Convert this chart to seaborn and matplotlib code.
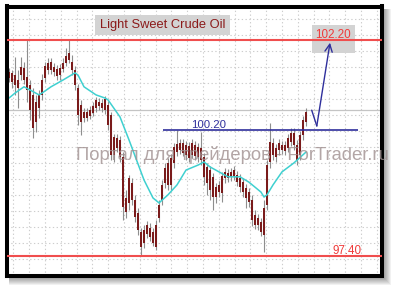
import matplotlib
matplotlib.use("Agg")
import matplotlib.pyplot as plt
import seaborn as sns
import numpy as np
import pandas as pd
from matplotlib.patches import Rectangle

# ---------------- data ----------------
opens = [101.49, 101.47, 101.42, 101.13, 101.42, 101.58, 101.38, 101.20, 100.98, 100.38,
         100.69, 100.98, 101.36, 101.53, 101.71, 101.60, 101.56, 101.42, 101.56, 101.69,
         101.76, 101.71, 101.53, 101.13, 100.76, 100.47, 100.60, 100.51, 100.58, 100.69,
         100.82, 100.69, 100.64, 100.76, 100.53, 99.64, 100.02, 99.98, 99.60, 98.38,
         98.58, 99.02, 98.64, 98.36, 97.93, 97.69, 97.89, 98.02, 97.93, 97.60,
         98.24, 98.64, 99.02, 98.98, 99.58, 99.47, 99.71, 99.91, 99.69, 99.87,
         99.58, 99.64, 99.87, 99.60, 99.80, 99.60, 99.38, 99.31, 99.16, 98.71,
         98.82, 98.80, 99.13, 99.24, 99.16, 99.18, 99.20, 99.13, 99.04, 98.91,
         98.82, 98.64, 98.31, 98.09, 98.16, 97.87, 98.53, 99.49, 99.91, 99.80,
         99.76, 99.87, 99.73, 99.80, 99.93, 100.13, 99.87, 99.64, 100.09, 100.38]
closes = [101.36, 101.27, 101.20, 101.31, 101.60, 101.31, 101.09, 100.64, 100.24, 100.82,
          100.98, 101.31, 101.62, 101.69, 101.53, 101.49, 101.40, 101.58, 101.69, 101.84,
          101.91, 101.53, 101.20, 100.53, 100.38, 100.60, 100.47, 100.64, 100.73, 100.87,
          100.73, 100.80, 100.89, 100.31, 99.64, 100.04, 99.80, 99.60, 98.49, 98.69,
          99.13, 98.64, 98.27, 97.98, 97.60, 97.98, 98.09, 97.82, 97.69, 98.09,
          98.53, 98.98, 99.36, 99.47, 98.98, 99.82, 99.89, 99.76, 99.91, 99.64,
          99.84, 99.91, 99.62, 99.82, 99.53, 99.16, 99.02, 98.87, 98.71, 98.93,
          98.98, 99.18, 99.27, 99.13, 99.27, 99.31, 99.04, 98.93, 98.82, 98.69,
          98.60, 98.20, 98.09, 98.24, 97.93, 98.47, 99.42, 99.93, 99.64, 99.60,
          99.91, 99.76, 99.87, 100.02, 100.13, 99.87, 99.53, 100.09, 100.42, 100.60]
highs = [101.58, 101.53, 101.82, 101.53, 101.82, 101.71, 102.20, 101.31, 101.13, 100.98,
         101.09, 101.44, 101.71, 101.80, 101.80, 101.69, 101.64, 101.67, 101.80, 102.02,
         102.20, 101.87, 101.62, 101.22, 100.87, 100.69, 100.69, 100.73, 100.82, 100.93,
         100.91, 100.89, 100.96, 100.84, 100.60, 100.11, 100.11, 100.07, 99.71, 98.87,
         99.20, 99.13, 98.76, 98.47, 98.02, 98.09, 98.18, 98.13, 98.02, 98.20,
         98.64, 99.09, 99.47, 99.58, 99.67, 99.91, 100.20, 100.00, 100.00, 99.96,
         99.93, 100.00, 99.96, 99.91, 100.16, 99.69, 99.47, 99.40, 99.24, 99.02,
         99.07, 99.27, 99.36, 99.33, 99.36, 99.40, 99.29, 99.22, 99.13, 99.00,
         98.91, 98.76, 98.42, 98.33, 98.24, 98.64, 99.53, 100.36, 100.02, 99.89,
         100.00, 99.96, 99.96, 100.11, 100.24, 100.24, 99.98, 100.18, 100.51, 100.69]
lows = [101.27, 101.13, 100.98, 100.69, 101.31, 101.22, 100.82, 100.42, 100.02, 100.16,
        100.47, 100.87, 101.27, 101.44, 101.44, 101.40, 101.31, 101.31, 101.49, 101.62,
        101.69, 101.42, 101.09, 100.31, 100.09, 100.38, 100.40, 100.44, 100.51, 100.60,
        100.64, 100.60, 100.56, 100.20, 99.53, 99.49, 99.71, 99.49, 98.20, 98.24,
        98.42, 98.53, 98.16, 97.87, 97.42, 97.58, 97.80, 97.73, 97.62, 97.53,
        98.16, 98.53, 98.91, 98.87, 98.87, 99.36, 99.62, 99.67, 99.62, 99.53,
        99.49, 99.58, 99.53, 99.49, 99.42, 98.98, 98.76, 98.64, 98.42, 98.58,
        98.71, 98.60, 99.02, 99.04, 99.07, 99.09, 98.96, 98.82, 98.71, 98.47,
        98.49, 98.07, 98.00, 97.98, 97.84, 97.49, 98.42, 99.36, 99.53, 99.49,
        99.64, 99.67, 99.64, 99.71, 99.84, 99.76, 99.42, 99.53, 99.98, 100.29]

ma_idx = [0, 2, 5, 7, 10, 11, 14, 18, 22, 23, 25, 29, 32, 33, 37, 40, 45, 48, 50, 53,
          56, 59, 63, 65, 67, 70, 73, 77, 80, 84, 85, 86, 88, 91, 95, 99]
ma_val = [100.91, 101.02, 101.16, 101.09, 100.98, 101.02, 101.16, 101.31, 101.47, 101.42,
          101.16, 100.98, 100.91, 100.87, 100.49, 99.98, 99.09, 98.69, 98.58, 98.76,
          98.98, 99.31, 99.42, 99.49, 99.38, 99.27, 99.16, 99.16, 99.04, 98.82,
          98.71, 98.76, 98.98, 99.27, 99.47, 99.71]

title = "Light Sweet Crude Oil"
watermark = "Портал для трейдеров - ForTrader.ru"
resistance = 102.20
support = 97.40
breakout = 100.20
last_price = 100.64
breakout_span = (51.3, 116.3)
arrow_idx = [100.9, 102.6, 107.0]
arrow_val = [100.64, 100.29, 102.14]

# ---------------- figure ----------------
W, H = 394, 290
sns.set_theme(style="white")
plt.rcParams['font.family'] = ['Liberation Sans', 'DejaVu Sans']

fig = plt.figure(figsize=(W / 100, H / 100), dpi=100)
fig.patch.set_facecolor('white')

def fr(x0, y0, x1, y1):
    return (x0 / W, 1 - y1 / H), (x1 - x0) / W, (y1 - y0) / H

# drop shadow
for s in range(1, 8):
    xy, w, h = fr(9, 9, 384 + s, 278 + s)
    fig.add_artist(Rectangle(xy, w, h, transform=fig.transFigure,
                             facecolor='black', edgecolor='none', alpha=0.055, zorder=0))

ax = fig.add_axes([6.5 / W, 1 - 276 / H, (382 - 6.5) / W, (276 - 6.5) / H])
ax.set_facecolor('white')
ax.set_zorder(2)
for sp in ax.spines.values():
    sp.set_visible(True)
    sp.set_color('black')
    sp.set_linewidth(2.9)

ax.set_xlim(-0.833, 124.33)
ax.set_ylim(96.956, 102.944)
ax.set_xticks([])
ax.set_yticks([])

# dotted grid (pixel spaced)
gx = np.arange(13.3, 380, 15.8)
gy = np.arange(19, 273, 16.0)
for px in gx:
    f = (px - 6.5) / 375.5
    ax.plot([f, f], [0, 1], transform=ax.transAxes, color='#CDCDCD', lw=0.8,
            linestyle=(0, (1.2, 2.2)), zorder=0.5)
for py in gy:
    f = 1 - (py - 6.5) / 269.5
    ax.plot([0, 1], [f, f], transform=ax.transAxes, color='#CDCDCD', lw=0.8,
            linestyle=(0, (1.2, 2.2)), zorder=0.5)

def px2d(px, py):
    return (px - 9) / 3.0, 102.2 - (py - 40) / 45.0

# label boxes
x0, y1 = px2d(95, 14.7)
x1, y0 = px2d(230, 34.7)
ax.add_patch(Rectangle((x0, y0), x1 - x0, y1 - y0, facecolor='#D3D3D3', edgecolor='none', zorder=1))
x0, y1 = px2d(311.7, 25)
x1, y0 = px2d(355, 53)
ax.add_patch(Rectangle((x0, y0), x1 - x0, y1 - y0, facecolor='#D3D3D3', edgecolor='none', zorder=1))

# levels
ax.axhline(last_price, color='#C4C4C4', lw=0.9, zorder=1.2)
ax.axhline(resistance, color='#F04E4E', lw=1.5, zorder=3)
ax.axhline(support, color='#F04E4E', lw=1.5, zorder=3)

# candles
df = pd.DataFrame({'o': opens, 'c': closes, 'h': highs, 'l': lows})
df['i'] = np.arange(len(df))
ax.vlines(df['i'], df['l'], df['h'], color='#8E8E8E', lw=0.8, zorder=2)
bot = df[['o', 'c']].min(axis=1)
hgt = (df['o'] - df['c']).abs().clip(lower=0.03)
ax.bar(df['i'], hgt, bottom=bot, width=0.75, color='#7A1B1B', edgecolor='none', zorder=2.2)

# moving average
sns.lineplot(x=ma_idx, y=ma_val, ax=ax, color='#3FD0D0', lw=1.1, zorder=2.5)

# breakout level + projection arrow
ax.hlines(breakout, breakout_span[0], breakout_span[1], color='#2F2F9C', lw=1.2, zorder=3)
ax.plot(arrow_idx[:2], arrow_val[:2], color='#2F2F9C', lw=1.0, zorder=3)
ax.annotate('', xy=(arrow_idx[2], arrow_val[2]), xytext=(arrow_idx[1], arrow_val[1]),
            arrowprops=dict(arrowstyle='->,head_length=0.45,head_width=0.22',
                            color='#2F2F9C', lw=1.0, shrinkA=0, shrinkB=0), zorder=3)

# texts
tx, ty = px2d(163, 25.5)
ax.text(tx, ty, title, ha='center', va='center', fontsize=9.3, color='#8B1A1A', zorder=4)
tx, ty = px2d(332.5, 35.2)
ax.text(tx, ty, f"{resistance:.2f}", ha='center', va='center', fontsize=8.4, color='#F03A3A', zorder=4)
tx, ty = px2d(208.5, 124.8)
ax.text(tx, ty, f"{breakout:.2f}", ha='center', va='center', fontsize=8.2, color='#2F2F9C', zorder=4)
tx, ty = px2d(347, 250.8)
ax.text(tx, ty, f"{support:.2f}", ha='center', va='center', fontsize=8.4, color='#F03A3A', zorder=4)

fig.text(232.5 / W, 1 - 155.5 / H, watermark, ha='center', va='center', fontsize=13.2,
         color='#A09090', alpha=0.8, zorder=10)

fig.savefig('out.png', dpi=100, facecolor='white')
